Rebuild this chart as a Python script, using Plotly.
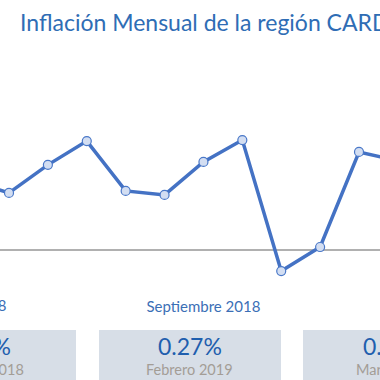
import plotly.graph_objects as go

# ---- data ----
months = ["Marzo 2018", "Abril 2018", "Mayo 2018", "Junio 2018", "Julio 2018",
          "Agosto 2018", "Septiembre 2018", "Octubre 2018", "Noviembre 2018",
          "Diciembre 2018", "Enero 2019", "Febrero 2019"]
inflation = [0.21, 0.173, 0.258, 0.33, 0.179, 0.167, 0.267, 0.333, -0.064, 0.009, 0.297, 0.27]
tick_labels = ["Marzo 2018", "Septiembre 2018"]
card_values = ["0.33%", "0.27%", "0.30%"]
card_labels = ["Octubre 2018", "Febrero 2019", "Marzo 2019"]

W = H = 380
XR = [0.7686, 10.540]
YR = [-0.1273, 0.606]
Y_DOM = [1 - 292 / H, 1 - 50 / H]

fig = go.Figure()
fig.add_trace(go.Scatter(
    x=months, y=inflation, mode="lines+markers",
    line=dict(color="#4472c4", width=3.5),
    marker=dict(size=9, color="#d3def2", line=dict(color="#4a78c8", width=1.2)),
    hoverinfo="skip",
))

def x_to_paper(cat):
    i = months.index(cat)
    return (i - XR[0]) / (XR[1] - XR[0])

label_font = dict(family="Lato, sans-serif", size=15, color="#3b6fb6")
annotations = []
for lab in tick_labels:
    p = x_to_paper(lab)
    if p < 0 or p > 1:
        annotations.append(dict(xref="paper", yref="paper", x=p, y=1 - 305 / H,
                                text=lab, showarrow=False, xanchor="center",
                                yanchor="middle", font=label_font, xshift=-4))

annotations.append(dict(xref="paper", yref="paper", x=18 / W, y=1 - 22 / H,
                        text="Inflación Mensual de la región CARD",
                        showarrow=False, xanchor="left", yanchor="middle",
                        font=dict(family="Lato, sans-serif", size=23, color="#2f6db5")))

shapes = []
card_edges = [(-118, 76), (99, 281), (303, 487)]
text_centers = [-21, 189.5, 395]
for (x0, x1), c, v, l in zip(card_edges, text_centers, card_values, card_labels):
    shapes.append(dict(type="rect", xref="paper", yref="paper",
                       x0=x0 / W, x1=x1 / W,
                       y0=-0.1, y1=1 - 330 / H,
                       fillcolor="#d7dee7", line=dict(width=0), layer="below"))
    annotations.append(dict(xref="paper", yref="paper", x=c / W, y=1 - 346 / H,
                            text=v, showarrow=False, xanchor="center", yanchor="middle",
                            font=dict(family="Lato, sans-serif", size=23, color="#1f5fae")))
    annotations.append(dict(xref="paper", yref="paper", x=c / W, y=1 - 369 / H,
                            text=l, showarrow=False, xanchor="center", yanchor="middle",
                            font=dict(family="Lato, sans-serif", size=14.5, color="#a39d96")))

fig.update_layout(
    width=W, height=H,
    margin=dict(l=0, r=0, t=0, b=0),
    paper_bgcolor="white", plot_bgcolor="white",
    showlegend=False,
    xaxis=dict(type="category", range=XR, showgrid=False, zeroline=False,
               showline=False, ticks="", tickmode="array", tickvals=tick_labels,
               ticktext=tick_labels, tickfont=label_font, ticklabelstandoff=4),
    yaxis=dict(range=YR, domain=Y_DOM, showgrid=False, showticklabels=False,
               zeroline=True, zerolinecolor="#b0b0b0", zerolinewidth=1.5, ticks=""),
    shapes=shapes,
    annotations=annotations,
)

fig.write_html("out.html", config={"displayModeBar": False},
               post_script="document.body.style.margin='0';document.body.style.overflow='hidden';")
